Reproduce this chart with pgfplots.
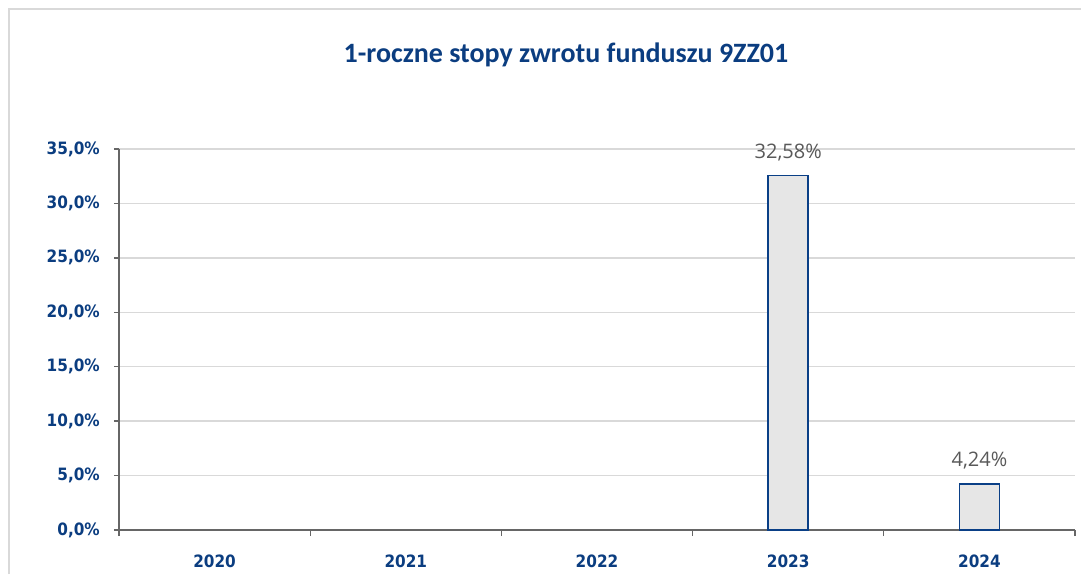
\documentclass[border=0pt]{standalone}
\usepackage{fontspec}
\setmainfont{Open Sans}
\newfontfamily\titlefont{Carlito}
\newfontfamily\tickfont{DejaVu Sans Condensed}
\usepackage{pgfplots}
\pgfplotsset{compat=1.18}
\definecolor{navy}{HTML}{0B3D80}
\definecolor{barline}{HTML}{0A3F86}
\definecolor{barfill}{HTML}{E6E6E6}
\definecolor{gridc}{HTML}{D9D9D9}
\definecolor{axisc}{HTML}{666666}
\definecolor{lbl}{HTML}{595959}

\begin{document}
\begin{tikzpicture}
% page = 1081 x 574 px, 1px = 1pt, plot box lower-left at (0,0)
\path[use as bounding box] (-119pt,-44pt) rectangle (962pt,530pt);
\draw[gridc, line width=2pt] (-110pt,-44pt) -- (-110pt,521pt) -- (962pt,521pt);
\node[anchor=base, text=navy, inner sep=0pt,
      font=\titlefont\bfseries\fontsize{28}{32}\selectfont]
  at (447pt,467pt) {1-roczne stopy zwrotu funduszu 9ZZ01};
\begin{axis}[
  at={(0pt,0pt)}, anchor=south west,
  scale only axis,
  width=956pt, height=381pt,
  xmin=-0.5, xmax=4.5,
  ymin=0, ymax=35,
  axis lines*=left,
  axis line style={axisc, line width=1.3pt},
  ytick={0,5,10,15,20,25,30,35},
  yticklabels={{0,0\%},{5,0\%},{10,0\%},{15,0\%},{20,0\%},{25,0\%},{30,0\%},{35,0\%}},
  xtick={0,1,2,3,4},
  xticklabels={2020,2021,2022,2023,2024},
  minor xtick={-0.5,0.5,1.5,2.5,3.5,4.5},
  tick align=outside,
  major tick length=5pt,
  minor tick length=6pt,
  major x tick style={draw=none},
  minor x tick style={axisc, line width=1.3pt},
  y tick style={axisc, line width=1.3pt},
  ymajorgrids,
  grid style={gridc, line width=1.3pt},
  yticklabel style={font=\tickfont\bfseries\fontsize{17}{20}\selectfont, text=navy, inner sep=0pt, xshift=-14pt},
  xticklabel style={font=\tickfont\bfseries\fontsize{17}{20}\selectfont, text=navy, anchor=base, inner sep=0pt, yshift=-32pt},
  ybar, bar width=40pt,
  point meta=explicit symbolic,
  nodes near coords,
  every node near coord/.append style={anchor=base, inner sep=0pt, yshift=17pt,
    text=lbl, font=\fontsize{20}{24}\selectfont},
  clip=false,
]
\addplot[draw=barline, fill=barfill, line width=1.5pt]
  coordinates {(3,32.58) [32,58\%] (4,4.24) [4,24\%]};
\end{axis}
\end{tikzpicture}
\end{document}
